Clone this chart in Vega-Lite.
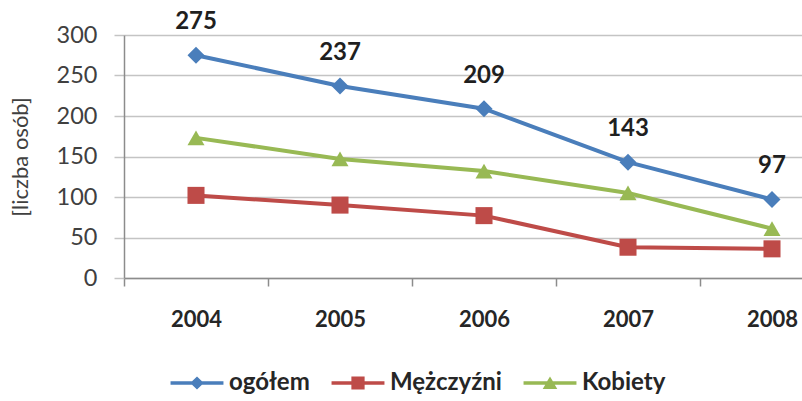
{
  "$schema": "https://vega.github.io/schema/vega-lite/v6.json",
  "width": 678,
  "height": 243,
  "autosize": {"type": "none"},
  "padding": {"left": 124, "top": 35, "right": 0, "bottom": 123},
  "background": "white",
  "config": {
    "font": "Lato",
    "view": {"stroke": null},
    "legend": {
      "orient": "none",
      "direction": "horizontal",
      "legendX": 61,
      "legendY": 336,
      "labelFontSize": 24,
      "labelFontWeight": "bold",
      "labelColor": "#262626",
      "labelOffset": 20,
      "columnPadding": 21,
      "symbolSize": 175,
      "symbolStrokeWidth": 0,
      "symbolOpacity": 1,
      "padding": 0
    }
  },
  "data": {
    "values": [
      {"year": "2004", "series": "ogółem", "value": 275},
      {"year": "2005", "series": "ogółem", "value": 237},
      {"year": "2006", "series": "ogółem", "value": 209},
      {"year": "2007", "series": "ogółem", "value": 143},
      {"year": "2008", "series": "ogółem", "value": 97},
      {"year": "2004", "series": "Mężczyźni", "value": 102},
      {"year": "2005", "series": "Mężczyźni", "value": 90},
      {"year": "2006", "series": "Mężczyźni", "value": 77},
      {"year": "2007", "series": "Mężczyźni", "value": 38},
      {"year": "2008", "series": "Mężczyźni", "value": 36},
      {"year": "2004", "series": "Kobiety", "value": 173},
      {"year": "2005", "series": "Kobiety", "value": 147},
      {"year": "2006", "series": "Kobiety", "value": 132},
      {"year": "2007", "series": "Kobiety", "value": 105},
      {"year": "2008", "series": "Kobiety", "value": 61}
    ]
  },
  "encoding": {
    "x": {
      "field": "year",
      "type": "nominal",
      "scale": {"type": "band", "range": [0, 720], "paddingInner": 0, "paddingOuter": 0},
      "axis": {
        "title": null,
        "labelAngle": 0,
        "labelFontSize": 22,
        "labelFontWeight": "bold",
        "labelColor": "#262626",
        "labelPadding": 23,
        "tickBand": "extent",
        "ticks": true,
        "tickSize": 8,
        "tickColor": "#8C8C8C",
        "tickWidth": 1.5,
        "domainColor": "#8C8C8C",
        "domainWidth": 1.5,
        "grid": false
      }
    },
    "y": {
      "field": "value",
      "type": "quantitative",
      "scale": {"domain": [0, 300], "nice": false},
      "axis": {
        "values": [0, 50, 100, 150, 200, 250, 300],
        "title": "[liczba osób]",
        "titleFontSize": 22,
        "titleFontWeight": "normal",
        "titleColor": "#404040",
        "titlePadding": 24,
        "labelFontSize": 23.5,
        "labelColor": "#404040",
        "labelPadding": 17,
        "tickSize": 10,
        "tickColor": "#C4C4C4",
        "tickWidth": 1.5,
        "grid": true,
        "gridColor": "#C4C4C4",
        "gridWidth": 1.5,
        "domainColor": "#8C8C8C",
        "domainWidth": 1.5
      }
    }
  },
  "layer": [
    {
      "mark": {"type": "line", "strokeWidth": 4},
      "encoding": {
        "color": {
          "field": "series",
          "type": "nominal",
          "scale": {"domain": ["ogółem", "Mężczyźni", "Kobiety"], "range": ["#4A7EBB", "#BE4B48", "#98B954"]},
          "legend": null
        }
      }
    },
    {
      "mark": {"type": "point", "filled": true, "opacity": 1, "size": 290},
      "encoding": {
        "color": {
          "field": "series",
          "type": "nominal",
          "scale": {"domain": ["ogółem", "Mężczyźni", "Kobiety"], "range": ["#4A7EBB", "#BE4B48", "#98B954"]},
          "legend": null
        },
        "shape": {
          "field": "series",
          "type": "nominal",
          "scale": {
            "domain": ["ogółem", "Mężczyźni", "Kobiety"],
            "range": ["diamond", "square", "triangle-up"]
          },
          "legend": null
        }
      }
    },
    {
      "mark": {"type": "point", "filled": true, "opacity": 0, "size": 175},
      "encoding": {
        "color": {
          "field": "series",
          "type": "nominal",
          "scale": {"domain": ["ogółem", "Mężczyźni", "Kobiety"], "range": ["#4A7EBB", "#BE4B48", "#98B954"]},
          "legend": {"title": null}
        },
        "shape": {
          "field": "series",
          "type": "nominal",
          "scale": {
            "domain": ["ogółem", "Mężczyźni", "Kobiety"],
            "range": [
              "M-4,-0.25L-0.75,-0.25L0,-1L0.75,-0.25L4,-0.25L4,0.25L0.75,0.25L0,1L-0.75,0.25L-4,0.25Z",
              "M-4,-0.25L-1,-0.25L-1,-1L1,-1L1,-0.25L4,-0.25L4,0.25L1,0.25L1,1L-1,1L-1,0.25L-4,0.25Z",
              "M-4,-0.25L-0.434,-0.25L0,-1L0.434,-0.25L4,-0.25L4,0.25L0.724,0.25L1.1,0.9L-1.1,0.9L-0.724,0.25L-4,0.25Z"
            ]
          },
          "legend": {"title": null}
        }
      }
    },
    {
      "transform": [{"filter": "datum.series === 'ogółem'"}],
      "mark": {"type": "text", "dy": -33, "fontSize": 24, "fontWeight": "bold"},
      "encoding": {
        "text": {"field": "value", "type": "quantitative"},
        "color": {"value": "#1F1F1F"}
      }
    }
  ],
  "resolve": {
    "scale": {"shape": "independent", "color": "independent"},
    "legend": {"shape": "independent", "color": "independent"}
  }
}
